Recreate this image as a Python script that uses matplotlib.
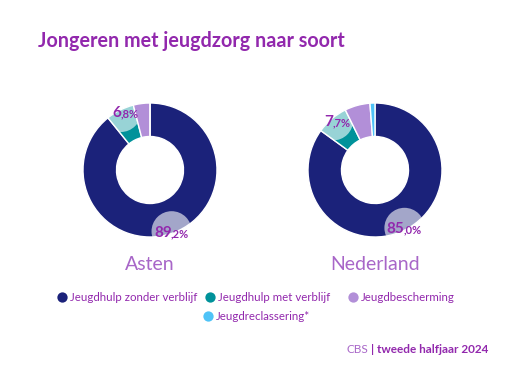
import numpy as np
import matplotlib
matplotlib.use('Agg')
from matplotlib import pyplot as plt
from matplotlib.patches import Circle

plt.rcParams['font.family'] = ['Lato', 'DejaVu Sans']

categories = ['Jeugdhulp zonder verblijf', 'Jeugdhulp met verblijf', 'Jeugdbescherming', 'Jeugdreclassering*']
colors = ['#1b227a', '#00929a', '#b28fd8', '#4fc3f7']
regions = ['Asten', 'Nederland']
values = {
    'Asten': [89.2, 6.8, 4.0, 0.0],
    'Nederland': [85.0, 7.7, 6.1, 1.2],
}
label_idx = [0, 1]   # wedges that get a percentage label

W, H = 525, 377
purple = '#9228ad'
region_col = '#a866c8'

fig = plt.figure(figsize=(W / 100, H / 100), dpi=100)
fig.patch.set_facecolor('white')

# overlay axes in pixel coordinates for texts and legend
ov = fig.add_axes([0, 0, 1, 1])
ov.set_xlim(0, W)
ov.set_ylim(H, 0)
ov.axis('off')

ov.text(38, 47, 'Jongeren met jeugdzorg naar soort', fontsize=14.2, fontweight='bold',
        color=purple, ha='left', va='baseline')

renderer = fig.canvas.get_renderer()


def split_label(ax, x, y, v):
    s = f'{v:.1f}'.replace('.', ',')
    big, small = s.split(',')
    t1 = ax.annotate(big, xy=(x, y), xytext=(0, -4), textcoords='offset points',
                     fontsize=11, fontweight='bold', color=purple, ha='right', va='baseline', zorder=5)
    ax.annotate(',' + small + '%', xy=(1, 0), xycoords=t1, xytext=(-0.6, 0.6), textcoords='offset points',
                fontsize=8, fontweight='bold', color=purple, ha='left', va='bottom', zorder=5)


centers = [(150, 170), (375, 170)]
R = 67
for reg, (cx, cy) in zip(regions, centers):
    ax = fig.add_axes([(cx - R * 1.3) / W, (H - cy - R * 1.3) / H, 2.6 * R / W, 2.6 * R / H])
    vals = values[reg]
    wedges, _ = ax.pie(vals, colors=colors, startangle=90, counterclock=False, radius=1,
                       wedgeprops=dict(width=0.5, edgecolor='white', linewidth=1))
    ax.set_xlim(-1.3, 1.3)
    ax.set_ylim(-1.3, 1.3)
    ax.set_aspect('equal')
    ax.axis('off')
    for i in label_idx:
        wd = wedges[i]
        mid = np.deg2rad((wd.theta1 + wd.theta2) / 2)
        c = Circle((0.97 * np.cos(mid), 0.97 * np.sin(mid)), 0.3, facecolor='white', alpha=0.6,
                   edgecolor='none', zorder=3)
        ax.add_patch(c)
        c.set_clip_path(wd)
        split_label(ax, 0.97 * np.cos(mid), 0.97 * np.sin(mid), vals[i])
    ov.text(cx, 270, reg, fontsize=14, color=region_col, ha='center', va='baseline')

# legend
fs_leg = 8.3
row1 = [(62, categories[0]), (210, categories[1]), (353, categories[2])]
for x, lab in row1:
    i = categories.index(lab)
    ov.scatter([x], [297], s=55, color=colors[i], zorder=5, linewidths=0)
    ov.text(x + 8, 301, lab, fontsize=fs_leg, color=purple, ha='left', va='baseline')
ov.scatter([208], [316], s=55, color=colors[3], zorder=5, linewidths=0)
ov.text(216, 320, categories[3], fontsize=fs_leg, color=purple, ha='left', va='baseline')

# footer
t_b = ov.text(488, 353, '| tweede halfjaar 2024', fontsize=8.5, fontweight='bold', color=purple,
              ha='right', va='baseline')
wb = t_b.get_window_extent(renderer).width
ov.text(488 - wb - 2, 353, 'CBS', fontsize=8.5, color=region_col, ha='right', va='baseline')

fig.savefig('out.png', dpi=100, facecolor='white')
